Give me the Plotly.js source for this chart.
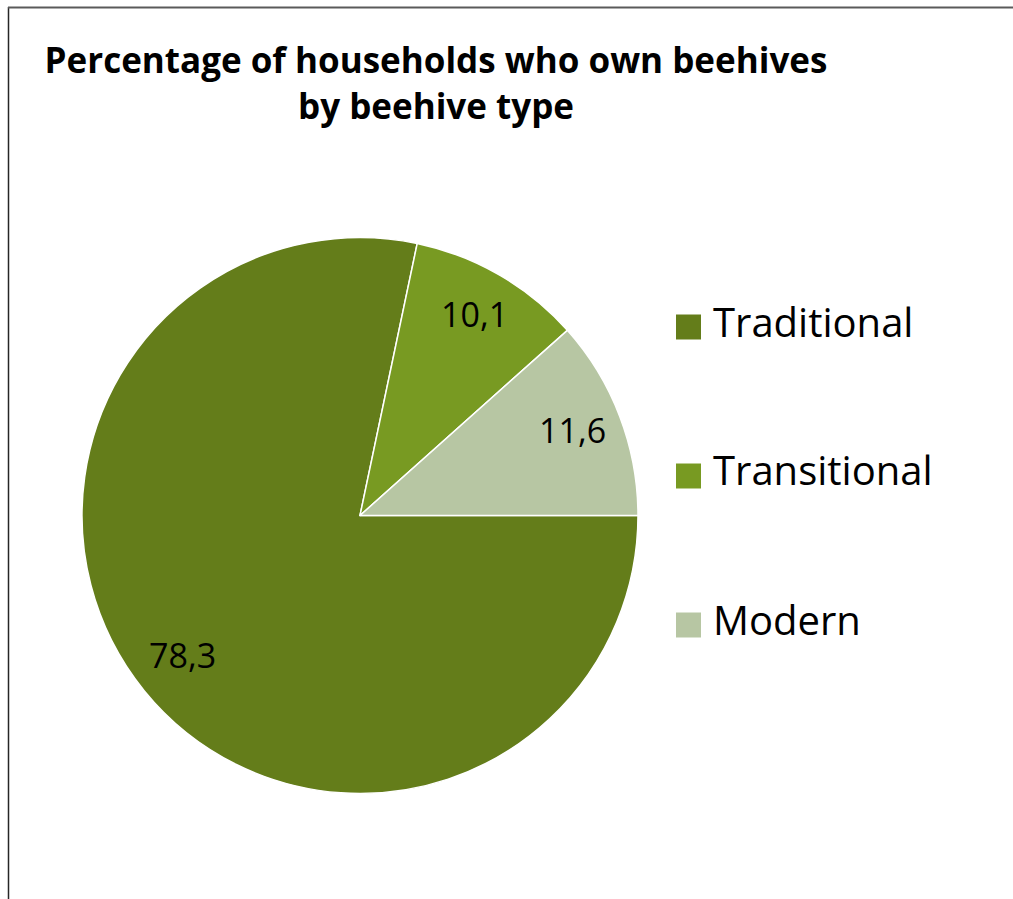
<!DOCTYPE html>
<html>
<head>
<meta charset="utf-8">
<script src="https://cdn.plot.ly/plotly-3.0.1.min.js"></script>
<style>html,body{margin:0;padding:0;background:#fff;}#chart{width:1013px;height:899px;}</style>
</head>
<body>
<div id="chart"></div>
<script>
// Data
const categories = ["Traditional", "Transitional", "Modern"];
const shares = [78.3, 10.1, 11.6];
const sliceColors = ["#647D1A", "#789A22", "#B7C6A3"];
const chartTitle = "Percentage of households who own beehives<br>by beehive type";

const W = 1013, H = 899;
const px = v => v / W;
const py = v => 1 - v / H;

// pie geometry (pixels)
const cx = 360, cy = 515.5, R = 278;

const trace = {
  type: "pie",
  labels: categories,
  values: shares,
  sort: false,
  direction: "clockwise",
  rotation: 90,
  marker: {colors: sliceColors, line: {color: "#ffffff", width: 1.5}},
  textinfo: "none",
  hoverinfo: "label+value",
  showlegend: false,
  domain: {x: [px(cx - R), px(cx + R)], y: [py(cy + R), py(cy - R)]}
};

const shapes = [
  {type: "line", xref: "paper", yref: "paper", x0: px(8.5), x1: px(8.5), y0: 0, y1: py(7), line: {color: "#262626", width: 1.5}},
  {type: "line", xref: "paper", yref: "paper", x0: px(8), x1: 1, y0: py(7.5), y1: py(7.5), line: {color: "#5a5a5a", width: 2}}
];
const annotations = [];

// Slice value labels at 0.82R along each slice's mid angle (start 3 o'clock, clockwise)
const total = shares.reduce((a, b) => a + b, 0);
let cum = 0;
shares.forEach((v, i) => {
  const mid = (cum + v / 2) / total * 2 * Math.PI;
  cum += v;
  const ang = -mid; // clockwise from 3 o'clock
  const r = 0.82 * R;
  const x = cx + r * Math.cos(ang);
  const y = cy - r * Math.sin(ang) - 4;
  annotations.push({text: v.toFixed(1).replace(".", ","), xref: "paper", yref: "paper",
    x: px(x), y: py(y), xanchor: "center", yanchor: "middle", showarrow: false,
    font: {family: "Open Sans, sans-serif", size: 34, color: "#000000"}});
});

// Legend drawn as squares + text, built from the category arrays
const legendY = [327, 476, 625];
categories.forEach((c, i) => {
  shapes.push({type: "rect", xref: "paper", yref: "paper",
    x0: px(676), x1: px(701), y0: py(legendY[i] + 12.5), y1: py(legendY[i] - 12.5),
    fillcolor: sliceColors[i], line: {width: 0}});
  annotations.push({text: c, xref: "paper", yref: "paper", x: px(711), y: py(legendY[i] - 6),
    xanchor: "left", yanchor: "middle", showarrow: false,
    font: {family: "Open Sans, sans-serif", size: 40, color: "#000000"}});
});

const layout = {
  width: W, height: H,
  margin: {l: 0, r: 0, t: 0, b: 0},
  paper_bgcolor: "#ffffff",
  separators: ", ",
  title: {text: chartTitle, x: px(436), xanchor: "center", xref: "paper",
    y: py(73), yanchor: "top", yref: "paper",
    font: {family: "Open Sans, sans-serif", size: 35, color: "#000000", weight: "bold"}},
  shapes: shapes,
  annotations: annotations,
  showlegend: false
};

Plotly.newPlot("chart", [trace], layout, {displayModeBar: false, staticPlot: true});
</script>
</body>
</html>
